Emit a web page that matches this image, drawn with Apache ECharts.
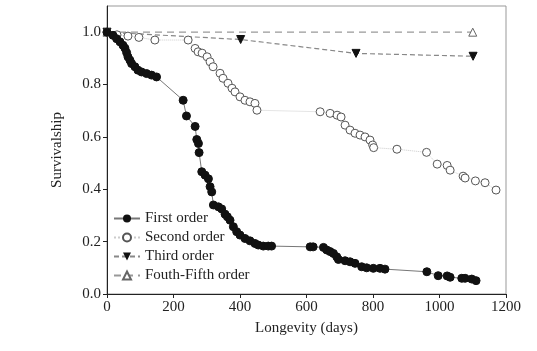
<!DOCTYPE html>
<html><head><meta charset="utf-8">
<script src="https://cdn.jsdelivr.net/npm/echarts@6/dist/echarts.min.js"></script>
<style>html,body{margin:0;padding:0;background:#fff}#c{width:537px;height:351px}</style>
</head><body><div id="c"></div>
<script>
var seriesNames = ['First order', 'Second order', 'Third order', 'Fouth-Fifth order'];
var xTicks = [0, 200, 400, 600, 800, 1000, 1200];
var yTicks = [0, 0.2, 0.4, 0.6, 0.8, 1.0];

var firstDays = [0,18,29,39,48,54,59,63,69,74,84,93,104,119,134,149,229,239,265,270,275,277,285,295,305,310,315,320,335,345,355,362,370,380,390,400,415,430,445,455,470,485,495,611,620,651,661,671,681,691,696,716,731,746,766,781,801,821,836,962,996,1023,1032,1067,1077,1097,1110];
var firstSurv = [1.0,0.988,0.975,0.963,0.95,0.939,0.922,0.906,0.893,0.88,0.868,0.855,0.848,0.842,0.836,0.829,0.74,0.68,0.64,0.59,0.575,0.54,0.467,0.454,0.44,0.41,0.39,0.34,0.333,0.325,0.305,0.295,0.282,0.257,0.238,0.225,0.212,0.203,0.193,0.187,0.183,0.183,0.183,0.18,0.18,0.178,0.168,0.162,0.155,0.142,0.132,0.127,0.123,0.117,0.104,0.1,0.098,0.098,0.095,0.085,0.07,0.069,0.064,0.06,0.06,0.057,0.051];

var secondDays = [0,30,63,96,144,244,265,274,286,301,310,319,340,349,364,376,385,400,415,430,445,451,641,671,692,704,716,731,746,761,776,791,799,802,872,961,993,1023,1032,1071,1077,1108,1137,1170];
var secondSurv = [1.0,0.99,0.985,0.98,0.97,0.97,0.938,0.925,0.92,0.906,0.887,0.868,0.843,0.824,0.805,0.786,0.772,0.753,0.74,0.734,0.728,0.702,0.696,0.69,0.683,0.676,0.645,0.626,0.614,0.607,0.6,0.588,0.569,0.559,0.553,0.541,0.496,0.491,0.473,0.45,0.443,0.432,0.425,0.397];

var thirdDays = [0, 402, 749, 1101];
var thirdSurv = [1.0, 0.972, 0.919, 0.908];

var fourthDays = [0, 1100];
var fourthSurv = [1.0, 1.0];

function pairs(xs, ys){ return xs.map(function(x,i){ return [x, ys[i]]; }); }

var serif = 'Liberation Serif';
var chart = echarts.init(document.getElementById('c'));
chart.setOption({
  animation: false,
  backgroundColor: '#fff',
  grid: { left: 107, right: 31, top: 6, bottom: 57, show: true, borderColor: '#999', borderWidth: 1 },
  legend: {
    orient: 'vertical', left: 108, top: 206, itemGap: 4, itemWidth: 26, itemHeight: 10,
    textStyle: { fontFamily: serif, fontSize: 15, color: '#222' },
    data: seriesNames
  },
  xAxis: {
    type: 'value', min: 0, max: 1200, interval: 200,
    name: 'Longevity (days)', nameLocation: 'middle', nameGap: 27,
    nameTextStyle: { fontFamily: serif, fontSize: 15, color: '#222' },
    axisLine: { lineStyle: { color: '#222' } },
    axisTick: { show: true, length: 4, lineStyle: { color: '#222' }, customValues: xTicks },
    axisLabel: { fontFamily: serif, fontSize: 15, color: '#222', margin: 6, customValues: xTicks,
      formatter: function(v){ return String(v); } },
    splitLine: { show: false }
  },
  yAxis: {
    type: 'value', min: 0, max: 1.1,
    name: 'Survivalship', nameLocation: 'middle', nameGap: 42,
    nameTextStyle: { fontFamily: serif, fontSize: 15, color: '#222' },
    axisLine: { show: true, lineStyle: { color: '#222' } },
    axisTick: { show: true, length: 4, lineStyle: { color: '#222' }, customValues: yTicks },
    axisLabel: { fontFamily: serif, fontSize: 15, color: '#222', margin: 6, customValues: yTicks,
      formatter: function(v){ return v.toFixed(1); } },
    splitLine: { show: false }
  },
  series: [
    { name: seriesNames[3], type: 'line', data: pairs(fourthDays, fourthSurv),
      symbol: 'triangle', symbolSize: 8, showAllSymbol: true,
      itemStyle: { color: '#fff', borderColor: '#666', borderWidth: 1 },
      lineStyle: { color: '#999', width: 1.2, type: [7, 5] }, z: 2 },
    { name: seriesNames[2], type: 'line', data: pairs(thirdDays, thirdSurv),
      symbol: 'triangle', symbolRotate: 180, symbolSize: 8, showAllSymbol: true,
      itemStyle: { color: '#111', borderColor: '#111' },
      lineStyle: { color: '#888', width: 1.2, type: [5, 3] }, z: 3 },
    { name: seriesNames[1], type: 'line', data: pairs(secondDays, secondSurv),
      symbol: 'circle', symbolSize: 8, showAllSymbol: true,
      itemStyle: { color: '#fff', borderColor: '#555', borderWidth: 1 },
      lineStyle: { color: '#ccc', width: 1, type: 'dotted' }, z: 4 },
    { name: seriesNames[0], type: 'line', data: pairs(firstDays, firstSurv),
      symbol: 'circle', symbolSize: 8, showAllSymbol: true,
      itemStyle: { color: '#111', borderColor: '#111' },
      lineStyle: { color: '#777', width: 1 }, z: 5 }
  ]
});
</script></body></html>
